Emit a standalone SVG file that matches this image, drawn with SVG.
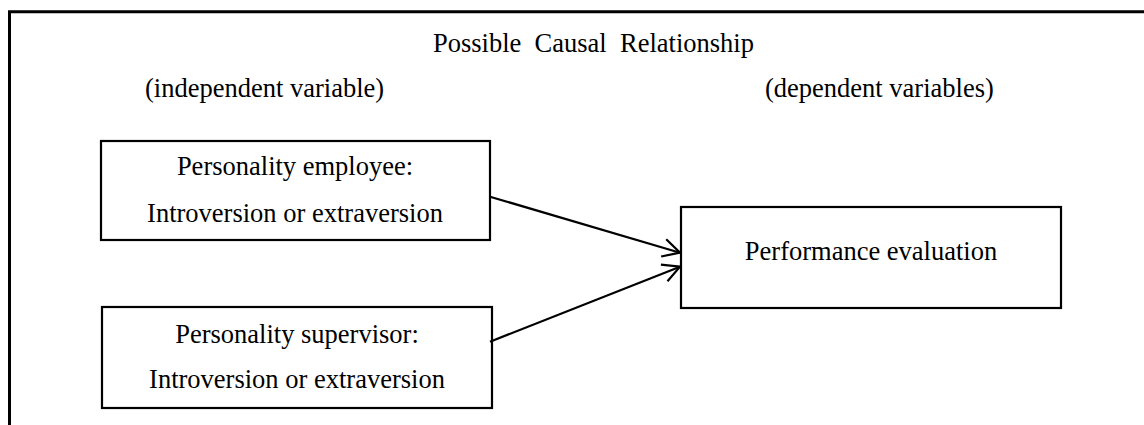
<svg xmlns="http://www.w3.org/2000/svg" width="1144" height="425" viewBox="0 0 1144 425">
<style>
  .frame { fill: none; stroke: #000; stroke-width: 3; }
  .box { fill: #fff; stroke: #000; stroke-width: 2.2; }
  .t { font-family: "Liberation Serif", "Times New Roman", serif; font-size: 26.5px; fill: #000; }
  .c { text-anchor: middle; }
  .conn { stroke: #000; stroke-width: 2.2; fill: none; }
</style>
<defs>
  <marker id="open" markerUnits="userSpaceOnUse" markerWidth="24" markerHeight="24" viewBox="-20 -12 24 24" refX="0" refY="0" orient="auto">
    <path d="M-17,-9 L0,0 L-17,9" fill="none" stroke="#000" stroke-width="2.2" stroke-linejoin="miter"/>
  </marker>
</defs>
<rect width="1144" height="425" fill="#fff"/>
<path class="frame" d="M9.5,425 L9.5,11.7 L1144,11.7"/>
<g id="labels">
  <text class="t" x="433" y="52" xml:space="preserve">Possible  Causal  Relationship</text>
  <text class="t" x="145" y="97">(independent variable)</text>
  <text class="t" x="765" y="97">(dependent variables)</text>
</g>
<g id="node-employee">
  <rect class="box" x="101" y="141" width="389" height="99"/>
  <text class="t c" x="295" y="175">Personality employee:</text>
  <text class="t c" x="295" y="222">Introversion or extraversion</text>
</g>
<g id="node-supervisor">
  <rect class="box" x="102" y="307" width="390" height="101"/>
  <text class="t c" x="297" y="343">Personality supervisor:</text>
  <text class="t c" x="297" y="388">Introversion or extraversion</text>
</g>
<g id="node-performance">
  <rect class="box" x="681" y="207" width="380" height="101"/>
  <text class="t c" x="871" y="260">Performance evaluation</text>
</g>
<g id="connectors">
  <line class="conn" x1="490" y1="196.7" x2="680" y2="252.7" marker-end="url(#open)"/>
  <line class="conn" x1="490" y1="341.7" x2="680" y2="266.7" marker-end="url(#open)"/>
</g>
</svg>
